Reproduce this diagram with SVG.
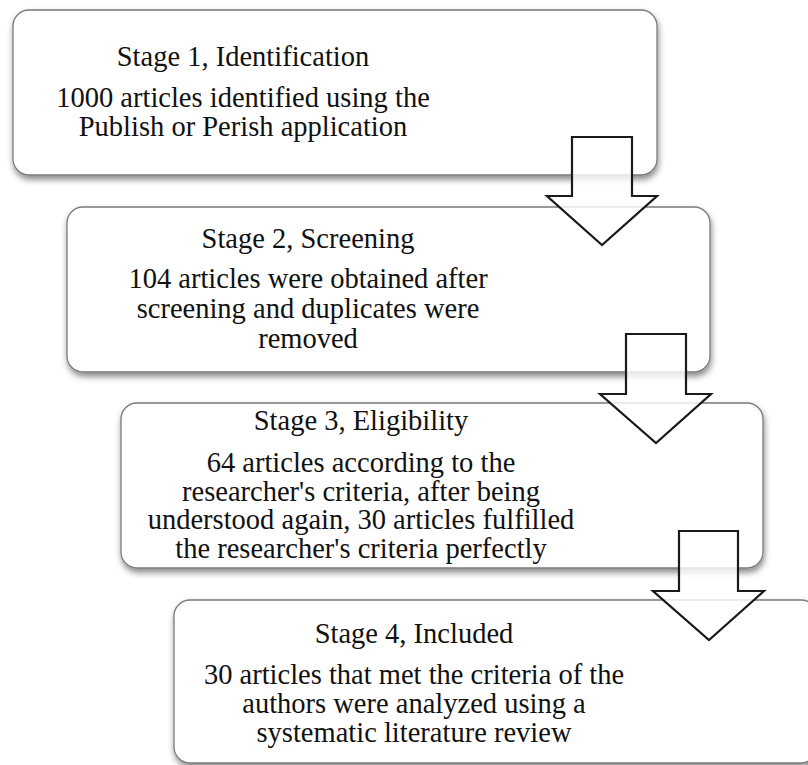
<svg xmlns="http://www.w3.org/2000/svg" width="808" height="765" viewBox="0 0 808 765">
  <defs>
    <filter id="shadow" x="-5%" y="-10%" width="110%" height="130%">
      <feDropShadow dx="1" dy="4" stdDeviation="3" flood-color="#000" flood-opacity="0.45"/>
    </filter>
  </defs>
  <style>
    .box { fill: #ffffff; stroke: #7a7a7a; stroke-width: 1.3; filter: url(#shadow); }
    .t { font-family: 'Liberation Serif', 'Times New Roman', 'DejaVu Serif', serif; font-size: 28.5px; fill: #111; text-anchor: middle; }
    .arrow { fill: #ffffff; fill-opacity: 0.8; stroke: #1a1a1a; stroke-width: 2.2; stroke-linejoin: miter; }
  </style>
  <rect width="808" height="765" fill="#ffffff"/>

  <g id="stage1">
    <rect class="box" x="13" y="10" width="644" height="165" rx="16"/>
    <text class="t" x="243" y="66">Stage 1, Identification</text>
    <text class="t" x="243" y="107">1000 articles identified using the</text>
    <text class="t" x="243" y="136">Publish or Perish application</text>
  </g>

  <g id="stage2">
    <rect class="box" x="67" y="207" width="643" height="165" rx="16"/>
    <text class="t" x="308" y="248">Stage 2, Screening</text>
    <text class="t" x="308" y="288">104 articles were obtained after</text>
    <text class="t" x="308" y="318">screening and duplicates were</text>
    <text class="t" x="308" y="348">removed</text>
  </g>

  <g id="stage3">
    <rect class="box" x="121" y="403" width="642" height="165" rx="16"/>
    <text class="t" x="361" y="430">Stage 3, Eligibility</text>
    <text class="t" x="361" y="472">64 articles according to the</text>
    <text class="t" x="361" y="501">researcher's criteria, after being</text>
    <text class="t" x="361" y="529">understood again, 30 articles fulfilled</text>
    <text class="t" x="361" y="558">the researcher's criteria perfectly</text>
  </g>

  <g id="stage4">
    <rect class="box" x="174" y="600" width="643" height="163" rx="16"/>
    <text class="t" x="414" y="643">Stage 4, Included</text>
    <text class="t" x="414" y="684">30 articles that met the criteria of the</text>
    <text class="t" x="414" y="713">authors were analyzed using a</text>
    <text class="t" x="414" y="742">systematic literature review</text>
  </g>

  <g id="connectors">
    <path class="arrow" d="M572,137 H632 V196 H657 L602,245 L547,196 H572 Z"/>
    <path class="arrow" d="M626,334 H686 V394 H711 L656,443 L600,394 H626 Z"/>
    <path class="arrow" d="M679,531 H738 V591 H764 L709,640 L653,591 H679 Z"/>
  </g>
</svg>
